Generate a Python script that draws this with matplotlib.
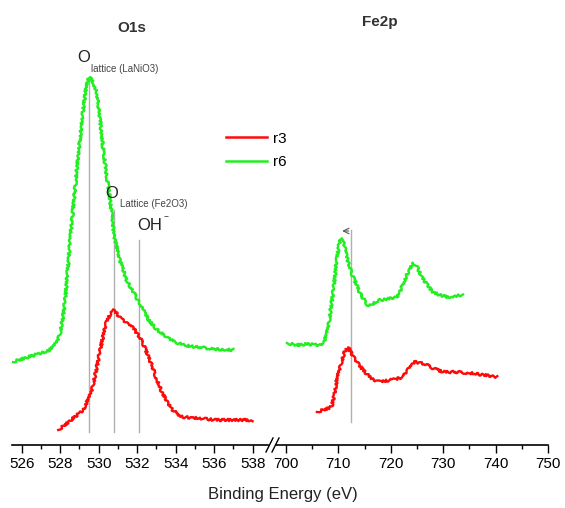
import matplotlib
matplotlib.use("Agg")
import matplotlib.pyplot as plt
from matplotlib.lines import Line2D

plt.rcParams['font.family'] = ['Liberation Sans', 'DejaVu Sans']

# O1s region (binding energy in eV, intensity in a.u.)
o1s_r6_x = [525.5, 526.0, 526.5, 527.0, 527.45, 527.8, 528.0, 528.15, 528.3, 528.5,
            528.75, 529.0, 529.2, 529.35, 529.5, 529.7, 529.9, 530.05, 530.2, 530.4,
            530.6, 530.8, 531.1, 531.45, 531.95, 532.3, 532.6, 533.0, 533.5, 534.0,
            534.4, 535.0, 536.0, 537.0]
o1s_r6_y = [83, 86, 89, 92, 95, 102, 112, 128, 152, 200,
            252, 300, 335, 358, 368, 364, 352, 330, 302, 272,
            245, 210, 185, 165, 148, 136, 125, 116, 108, 103,
            100, 98, 96, 95]

o1s_r3_x = [527.9, 528.5, 529.2, 529.6, 529.85, 530.05, 530.25, 530.4, 530.6, 530.8,
            531.0, 531.25, 531.5, 531.8, 532.05, 532.3, 532.55, 532.8, 533.05, 533.3,
            533.6, 533.85, 534.1, 534.4, 535.0, 536.1, 537.0, 538.0]
o1s_r3_y = [15, 24, 35, 52, 72, 92, 110, 122, 131, 135,
            130, 125, 121, 117, 110, 102, 90, 78, 64, 52,
            42, 35, 31, 28, 27, 25, 25, 25]

# Fe2p region
fe2p_r6_x = [700.2, 702, 704, 706.5, 707.3, 707.8, 708.3, 708.8, 709.3, 709.7,
             710.1, 710.5, 711.0, 711.6, 712.2, 712.8, 713.5, 714.1, 714.8, 715.6,
             716.5, 718, 719.5, 721.2, 721.8, 722.4, 723.3, 724.3, 725.1, 725.9,
             727, 728, 729.3, 730.7, 732.3, 733.8]
fe2p_r6_y = [102, 100, 101, 100, 104, 112, 126, 145, 166, 185,
             200, 207, 202, 188, 177, 168, 160, 152, 146, 140,
             141, 145, 146, 148, 154, 162, 173, 182, 177, 168,
             160, 153, 150, 148, 149, 150]

fe2p_r3_x = [705.9, 707, 708.2, 708.8, 709.2, 709.7, 710.2, 710.7, 711.2, 711.8,
             712.5, 713.2, 714.0, 714.7, 715.6, 716.6, 718, 719.8, 721, 722.3,
             723.4, 724.6, 725.7, 726.9, 728.4, 730, 732.5, 735.1, 737.7, 740.3]
fe2p_r3_y = [33, 35, 37, 40, 50, 65, 76, 85, 93, 98,
             92, 85, 80, 75, 70, 65, 63, 65, 66, 68,
             76, 83, 82, 80, 76, 73, 73, 72, 70, 68]

# reference peak positions (eV) and top of their marker lines
o1s_lines = [529.5, 530.8, 532.1]
o1s_line_tops = [368, 235, 205]
fe2p_line = 712.5
fe2p_line_top = 215

red = '#ff0a0a'
green = '#22ee22'
grey = '#b0b0b0'


def style_axis(ax):
    for side in ['top', 'left', 'right']:
        ax.spines[side].set_visible(False)
    ax.spines['bottom'].set_linewidth(1.2)
    ax.set_yticks([])
    ax.set_ylim(0, 400)
    ax.tick_params(axis='x', direction='out', length=6, width=1, labelsize=11, pad=3)
    ax.tick_params(axis='x', which='minor', direction='out', length=3, width=1)


def spectrum(ax, x, y, color):
    line, = ax.plot(x, y, color=color, lw=1.7)
    # rough edge to mimic the measurement noise
    line.set_sketch_params(scale=1.2, length=3, randomness=6)
    return line


fig = plt.figure(figsize=(5.65, 5.08), dpi=100)
ax1 = fig.add_axes([12 / 565, 63 / 508, 256 / 565, 400 / 508])
ax2 = fig.add_axes([276 / 565, 63 / 508, 272 / 565, 400 / 508])
for ax in (ax1, ax2):
    style_axis(ax)

# O1s panel
for xv, top in zip(o1s_lines, o1s_line_tops):
    ax1.plot([xv, xv], [13, top], color=grey, lw=1)
spectrum(ax1, o1s_r3_x, o1s_r3_y, red)
spectrum(ax1, o1s_r6_x, o1s_r6_y, green)
ax1.set_xlim(525.5, 538.8)
ax1.set_xticks(range(526, 539, 2))
ax1.set_xticks(range(526, 539), minor=True)

ax1.text(531.7, 417, 'O1s', ha='center', va='center', fontsize=11, fontweight='bold',
         color='#333333', clip_on=False)
ax1.text(529.2, 387, 'O', ha='center', va='center', fontsize=12, color='#222222')
ax1.text(529.6, 376, 'lattice (LaNiO3)', ha='left', va='center', fontsize=7, color='#444444')
ax1.text(530.7, 252, 'O', ha='center', va='center', fontsize=12, color='#222222')
ax1.text(531.1, 241, 'Lattice (Fe2O3)', ha='left', va='center', fontsize=7, color='#444444')
ax1.text(532.0, 220, 'OH', ha='left', va='center', fontsize=12, color='#222222')
ax1.text(533.35, 228, '\u2212', ha='left', va='center', fontsize=6, color='#222222')

# Fe2p panel
ax2.plot([fe2p_line, fe2p_line], [23, fe2p_line_top], color=grey, lw=1)
ax2.annotate('', xy=(710.2, fe2p_line_top - 1), xytext=(fe2p_line, fe2p_line_top - 1),
             arrowprops=dict(arrowstyle='->', color='#555555', lw=0.8))
spectrum(ax2, fe2p_r3_x, fe2p_r3_y, red)
spectrum(ax2, fe2p_r6_x, fe2p_r6_y, green)
ax2.set_xlim(698.1, 750)
ax2.set_xticks(range(700, 751, 10))
ax2.set_xticks(range(700, 751, 5), minor=True)
ax2.text(718.0, 423, 'Fe2p', ha='center', va='center', fontsize=11, fontweight='bold',
         color='#333333', clip_on=False)

# axis break marks
for x0 in (266, 272):
    fig.add_artist(Line2D([x0 / 565, (x0 + 7) / 565], [56 / 508, 70 / 508],
                          color='black', lw=1, transform=fig.transFigure))

handles = [Line2D([], [], color=red, lw=1.8), Line2D([], [], color=green, lw=1.8)]
fig.legend(handles, ['r3', 'r6'], loc='upper left', bbox_to_anchor=(212 / 565, 1 - 118 / 508),
           frameon=False, fontsize=11, handlelength=2.7, handletextpad=0.4, labelspacing=0.6)

fig.text(0.5, 1 - 495 / 508, 'Binding Energy (eV)', ha='center', va='center', fontsize=12,
         color='#222222')

fig.savefig('out.png', dpi=100)
